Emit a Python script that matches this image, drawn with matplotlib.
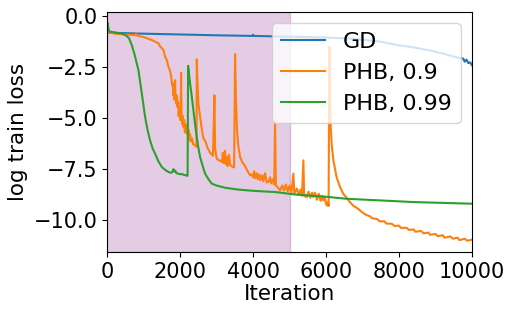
import matplotlib
matplotlib.use("Agg")
import matplotlib.pyplot as plt

# GD
gd_x = [0, 20, 200, 1000, 2000, 3000, 3980, 4000, 4020, 5000, 6000, 6566, 7000,
        7479, 8000, 8400, 8900, 9300, 9670, 9760, 9800, 9850, 9900, 9950, 10000]
gd_y = [-0.75, -0.82, -0.84, -0.88, -0.92, -0.96, -0.99, -0.93, -0.99, -1.03, -1.07, -1.11, -1.17,
        -1.27, -1.45, -1.55, -1.72, -1.9, -2.08, -2.1, -2.25, -2.15, -2.32, -2.28, -2.42]

# PHB, 0.9
phb9_x = [0, 15, 40, 200, 500, 780, 790, 800, 1000, 1224, 1406, 1452, 1543, 1589, 1635, 1680,
          1726, 1760, 1780, 1799, 1815, 1830, 1845, 1863, 1875, 1890, 1910, 1927, 1945, 1960,
          1980, 2000, 2015, 2027, 2040, 2060, 2075, 2091, 2110, 2130, 2150, 2181, 2200, 2220,
          2240, 2260, 2274, 2300, 2330, 2360, 2400, 2430, 2450, 2457, 2475, 2502, 2548, 2600,
          2639, 2685, 2750, 2822, 2900, 2941, 2960, 3003, 3050, 3100, 3150, 3170, 3190, 3230,
          3250, 3280, 3300, 3340, 3370, 3400, 3460, 3480, 3507, 3530, 3560, 3598, 3644, 3700,
          3781, 3850, 3918, 3960, 4000, 4030, 4055, 4100, 4130, 4170, 4200, 4250, 4280, 4330,
          4370, 4420, 4470, 4500, 4550, 4580, 4603, 4625, 4680, 4740, 4800, 4850, 4900, 4950,
          5000, 5050, 5105, 5130, 5200, 5250, 5300, 5340, 5379, 5400, 5470, 5520, 5570, 5620,
          5653, 5700, 5750, 5800, 5850, 5900, 5927, 5960, 6000, 6030, 6050, 6070, 6091, 6128,
          6160, 6201, 6290, 6384, 6470, 6566, 6650, 6750, 6850, 6950, 7000, 7080, 7200, 7260,
          7400, 7470, 7600, 7650, 7800, 7880, 8000, 8060, 8200, 8270, 8400, 8450, 8600, 8680,
          8800, 8850, 9000, 9070, 9200, 9250, 9400, 9480, 9600, 9660, 9800, 9870, 10000]
phb9_y = [-0.8, -0.45, -0.78, -0.88, -0.92, -0.95, -0.85, -0.96, -1.05, -1.19, -1.35, -1.5, -1.68, -2.0, -2.17, -2.5,
          -2.7, -3.0, -3.4, -3.3, -3.9, -3.5, -4.1, -3.15, -4.0, -4.3, -3.9, -4.46, -4.2, -4.9,
          -4.5, -5.1, -4.8, -2.79, -5.0, -5.3, -4.9, -5.44, -5.1, -5.7, -5.3, -5.76, -5.5, -5.95,
          -5.6, -6.1, -5.8, -6.15, -6.0, -6.3, -6.3, -6.4, -6.4, -2.14, -3.2, -4.29, -4.95, -5.6,
          -6.0, -6.1, -6.45, -6.7, -6.85, -3.89, -6.5, -6.99, -7.05, -7.1, -7.15, -6.7, -7.2, -6.6,
          -7.25, -6.9, -7.35, -6.8, -7.3, -7.35, -7.4, -7.42, -1.88, -4.0, -5.6, -6.4, -6.9, -7.15,
          -7.35, -7.6, -7.8, -7.75, -7.9, -7.6, -7.95, -7.7, -8.0, -7.75, -8.05, -7.8, -8.1, -7.7,
          -8.15, -8.13, -7.9, -8.2, -8.0, -8.25, -5.11, -8.3, -8.4, -8.54, -8.3, -8.55, -8.25, -8.6,
          -8.3, -8.65, -7.72, -8.7, -8.45, -8.75, -8.5, -8.8, -7.07, -8.8, -8.87, -8.6, -8.9, -8.65,
          -8.87, -8.65, -9.0, -8.7, -9.05, -8.8, -9.03, -8.85, -9.2, -9.28, -9.1, -9.3, -1.52, -5.44,
          -6.4, -7.07, -7.9, -8.38, -8.7, -8.9, -9.1, -9.3, -9.4, -9.55, -9.62, -9.72, -9.8, -9.9,
          -9.94, -10.05, -10.05, -10.16, -10.17, -10.28, -10.26, -10.38, -10.36, -10.47, -10.45, -10.56, -10.52, -10.64,
          -10.6, -10.71, -10.67, -10.78, -10.73, -10.85, -10.79, -10.9, -10.85, -10.97, -10.9, -11.0, -10.95]

# PHB, 0.99
phb99_x = [0, 15, 40, 80, 200, 400, 500, 600, 677, 760, 858, 950, 1041, 1110, 1178, 1250, 1315,
           1400, 1500, 1600, 1680, 1760, 1800, 1819, 1840, 1870, 1900, 1950, 2000, 2050, 2100,
           2150, 2180, 2205, 2220, 2274, 2320, 2365, 2410, 2457, 2500, 2548, 2620, 2685, 2780,
           2868, 3000, 3233, 3600, 4000, 4603, 5151, 6000, 6566, 7500, 8393, 9200, 10000]
phb99_y = [-0.75, -0.35, -0.7, -0.78, -0.82, -0.88, -0.95, -1.1, -1.44, -1.95, -2.66, -3.8, -4.95, -5.6, -6.1, -6.5, -6.74,
           -7.1, -7.4, -7.55, -7.64, -7.68, -7.6, -7.5, -7.62, -7.58, -7.7, -7.72, -7.75, -7.74, -7.78,
           -7.8, -7.82, -7.82, -2.45, -3.31, -3.95, -4.62, -5.3, -5.93, -6.45, -6.91, -7.35, -7.72, -8.0,
           -8.21, -8.3, -8.41, -8.5, -8.56, -8.62, -8.74, -8.85, -8.95, -9.03, -9.11, -9.15, -9.19]

fig, ax = plt.subplots(figsize=(5.15, 3.15), dpi=100)
fig.subplots_adjust(left=0.208, right=0.9165, top=0.962, bottom=0.2)

ax.axvspan(0, 5000, color='purple', alpha=0.2)
ax.plot(gd_x, gd_y, label='GD')
ax.plot(phb9_x, phb9_y, label='PHB, 0.9')
ax.plot(phb99_x, phb99_y, label='PHB, 0.99')

ax.set_xlim(0, 10000)
ax.set_ylim(-11.55, 0.18)
ax.set_xticks([0, 2000, 4000, 6000, 8000, 10000])
ax.set_yticks([0, -2.5, -5, -7.5, -10])
ax.tick_params(labelsize=15)
ax.set_xlabel('Iteration', fontsize=15.5, labelpad=2)
ax.set_ylabel('log train loss', fontsize=15.5)
ax.legend(fontsize=16, loc='upper right')

fig.savefig('out.png', dpi=100)
